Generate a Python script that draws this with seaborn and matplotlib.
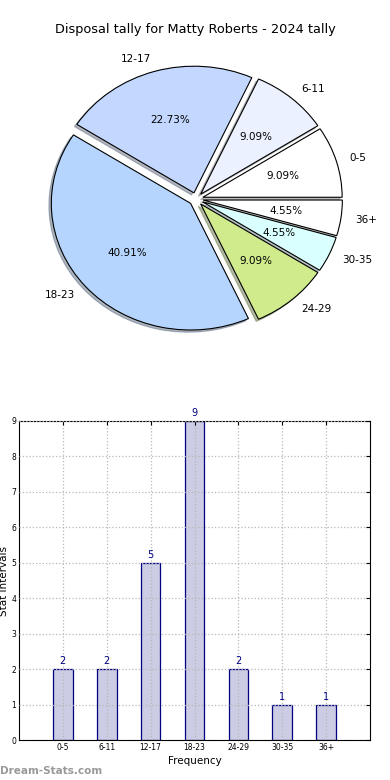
import numpy as np
import pandas as pd
import seaborn as sns
import matplotlib.pyplot as plt

# disposal tally data
bins = ["0-5", "6-11", "12-17", "18-23", "24-29", "30-35", "36+"]
counts = [2, 2, 5, 9, 2, 1, 1]
pie_colors = ["#ffffff", "#ebf1ff", "#c4d8ff", "#b5d5ff", "#d0eb8c", "#d9ffff", "#ffffff"]

sns.set_style("white")
plt.rcParams['font.family'] = ['DejaVu Sans']
plt.rcParams['text.color'] = 'black'
plt.rcParams['axes.labelcolor'] = 'black'
plt.rcParams['xtick.color'] = 'black'
plt.rcParams['ytick.color'] = 'black'

fig = plt.figure(figsize=(3.9, 7.8), dpi=100)

# pie on top (not equal aspect, like the old matplotlib default)
ax1 = fig.add_axes([36 / 390, 1 - 344.6 / 780, 320 / 390, 291 / 780])
ax1.pie(counts, labels=bins, colors=pie_colors, explode=[0.05] * len(counts),
        autopct="%.2f%%", startangle=0, radius=0.975,
        shadow={"ox": -0.012, "oy": -0.012, "shade": 0.5},
        wedgeprops={"edgecolor": "black", "linewidth": 0.8},
        textprops={"fontsize": 7.5})
ax1.set_aspect("auto")
ax1.set_xlim(-1.12, 1.12)
ax1.set_ylim(-1.12, 1.12)
ax1.axis("off")
fig.text(0.5, 1 - 30 / 780, "Disposal tally for Matty Roberts - 2024 tally",
         ha="center", va="center", fontsize=9.3)

# bar chart below
ax2 = fig.add_axes([19 / 390, 40 / 780, 351 / 390, 319 / 780])
df = pd.DataFrame({"bin": bins, "count": counts})
sns.barplot(data=df, x="bin", y="count", ax=ax2, color="#ccccE4", saturation=1,
            edgecolor="navy", linewidth=0.9, width=0.45)
for i, c in enumerate(counts):
    ax2.text(i, c + 0.08, str(c), ha="center", va="bottom", color="navy", fontsize=7)
ax2.set_xlim(-1, 7)
ax2.set_ylim(0, 9)
ax2.set_yticks(range(10))
ax2.set_axisbelow(False)
ax2.grid(True, linestyle=":", color="#b8b8b8", linewidth=0.9)
ax2.tick_params(direction="in", top=True, right=True, labelsize=5.5, length=3, pad=2)
ax2.set_xlabel("Frequency", fontsize=7.5, labelpad=3)
ax2.set_ylabel("Stat Intervals", fontsize=7.5, labelpad=2)
for s in ax2.spines.values():
    s.set_color("black")
    s.set_linewidth(0.8)

fig.text(0.0, 1 - 771 / 780, "Dream-Stats.com", color="#999999", fontsize=7.5,
         fontweight="bold", ha="left", va="center")

fig.savefig("out.png", dpi=100)
